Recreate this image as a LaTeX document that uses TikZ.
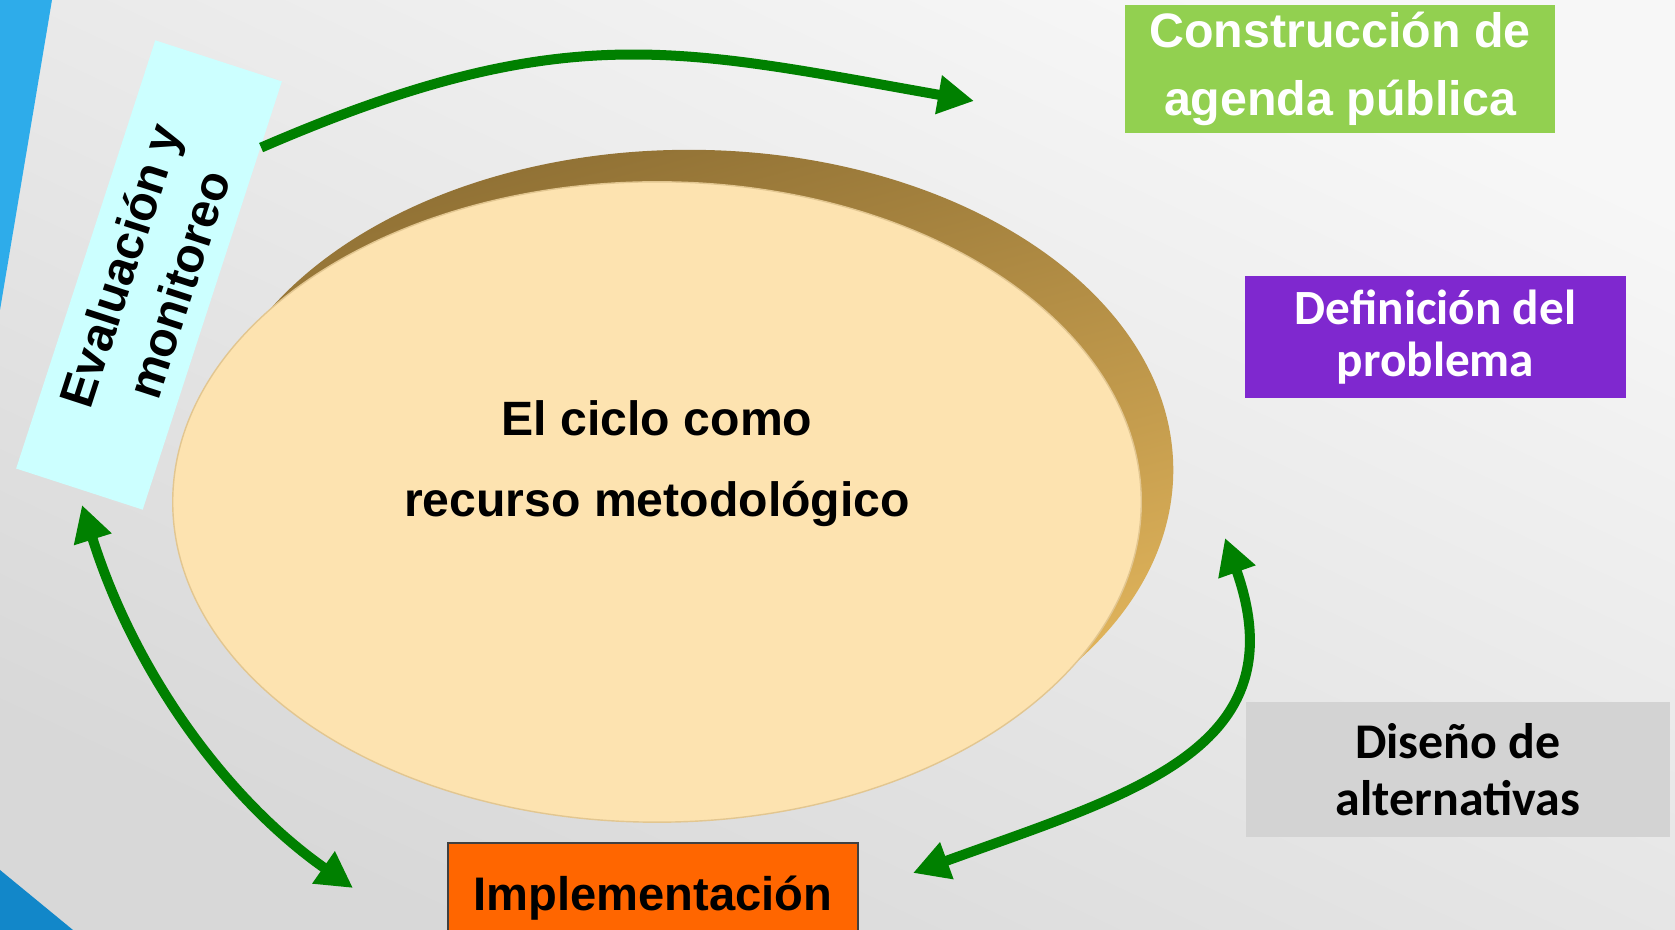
\documentclass[tikz,border=0pt]{standalone}
\usepackage{fontspec}
\setmainfont{Liberation Sans}
\newfontfamily\calibrifont{Carlito}
\usetikzlibrary{arrows.meta,shapes.geometric,calc}
\definecolor{bgdark}{HTML}{D8D8D8}
\definecolor{bglight}{HTML}{F7F7F7}
\definecolor{slideblue}{HTML}{2EACEA}
\definecolor{slidedeep}{HTML}{1287C9}
\definecolor{evalcyan}{HTML}{CCFFFF}
\definecolor{agendagreen}{HTML}{92D050}
\definecolor{defpurple}{HTML}{7F28CF}
\definecolor{disgray}{HTML}{D3D3D3}
\definecolor{implorange}{HTML}{FF6600}
\definecolor{diskfront}{HTML}{FDE3B0}
\definecolor{diskedge}{HTML}{E2C690}
\definecolor{diskdark}{HTML}{8F7034}
\definecolor{diskmid}{HTML}{D8AC55}
\definecolor{disklight}{HTML}{E9BB5F}
\definecolor{cyclegreen}{HTML}{008000}
\tikzset{%
  stagebox/.style   = {shape=rectangle, inner sep=0pt, align=center},%
  agenda/.style     = {stagebox, fill=agendagreen, text=white,%
                       minimum width=4.30cm, minimum height=1.28cm,%
                       font=\bfseries\fontsize{13.75}{19.3}\selectfont},%
  problem/.style    = {stagebox, fill=defpurple, text=white,%
                       minimum width=3.81cm, minimum height=1.22cm,%
                       font=\calibrifont\bfseries\fontsize{14}{14.6}\selectfont},%
  design/.style     = {stagebox, fill=disgray,%
                       minimum width=4.24cm, minimum height=1.35cm,%
                       font=\calibrifont\bfseries\fontsize{14.2}{16.2}\selectfont},%
  implement/.style  = {stagebox, fill=implorange, draw=black!75, line width=0.6pt,%
                       minimum width=4.10cm, minimum height=1.10cm,%
                       font=\bfseries\fontsize{13.4}{16}\selectfont},%
  evaluate/.style   = {stagebox, fill=evalcyan, rotate=72,%
                       minimum width=4.50cm, minimum height=1.33cm,%
                       font=\bfseries\fontsize{13.7}{17.5}\selectfont},%
  disk/.style       = {ellipse, fill=diskfront, draw=diskedge, line width=0.4pt,%
                       minimum width=9.68cm, minimum height=6.40cm, inner sep=0pt},%
  disktext/.style   = {align=center, font=\bfseries\fontsize{13.7}{23}\selectfont},%
  cyclearrow/.style = {draw=cyclegreen, line width=0.1cm,%
                       >={Triangle[length=3.6mm,width=3.7mm]}}%
}
\begin{document}
\begin{tikzpicture}[x=0.01cm,y=0.01cm]
  \clip (0,0) rectangle (1675,930);
  \shade[top color=bglight, bottom color=bgdark, shading angle=-25] (0,0) rectangle (1675,930);
  \fill[slideblue] (0,930) -- (52,930) -- (0,620) -- cycle;
  \fill[slidedeep] (0,60) -- (73,0) -- (0,0) -- cycle;

  \shade[top color=diskdark, middle color=diskmid, bottom color=disklight, shading angle=15]
    (689,460) ellipse [x radius=4.84cm, y radius=3.2cm];
  \node[disk] (disk) at (657,428) {};
  \node[disktext] (title) at ([yshift=0.38cm]disk.center) {El ciclo como\\recurso metodológico};

  \node[agenda]    (agenda)    at (1340,861)     {Construcción de\\agenda pública};
  \node[problem]   (problem)   at (1435.5,593)   {Definición del\\problema};
  \node[design]    (design)    at (1458,160.5)   {Diseño de\\alternativas};
  \node[implement] (implement) at (653,32)       {Implementación};
  \node[evaluate]  (evaluate)  at (149,655)      {Evaluación y\\monitoreo};

  \coordinate (agendain)  at (974,829);
  \coordinate (evalin)    at (82,425);
  \coordinate (implleft)  at (353,42);
  \coordinate (implright) at (913,57);
  \coordinate (designin)  at (1225,392);

  \draw[cyclearrow,->] ($(evaluate.south)!0.69!(evaluate.south east)$)
    .. controls (565,914) and (679,881) .. (agendain);
  \draw[cyclearrow,<->] (evalin) .. controls (136,253) and (230,128) .. (implleft);
  \draw[cyclearrow,<->] (designin) .. controls (1300,180) and (1130,136) .. (implright);
\end{tikzpicture}
\end{document}
